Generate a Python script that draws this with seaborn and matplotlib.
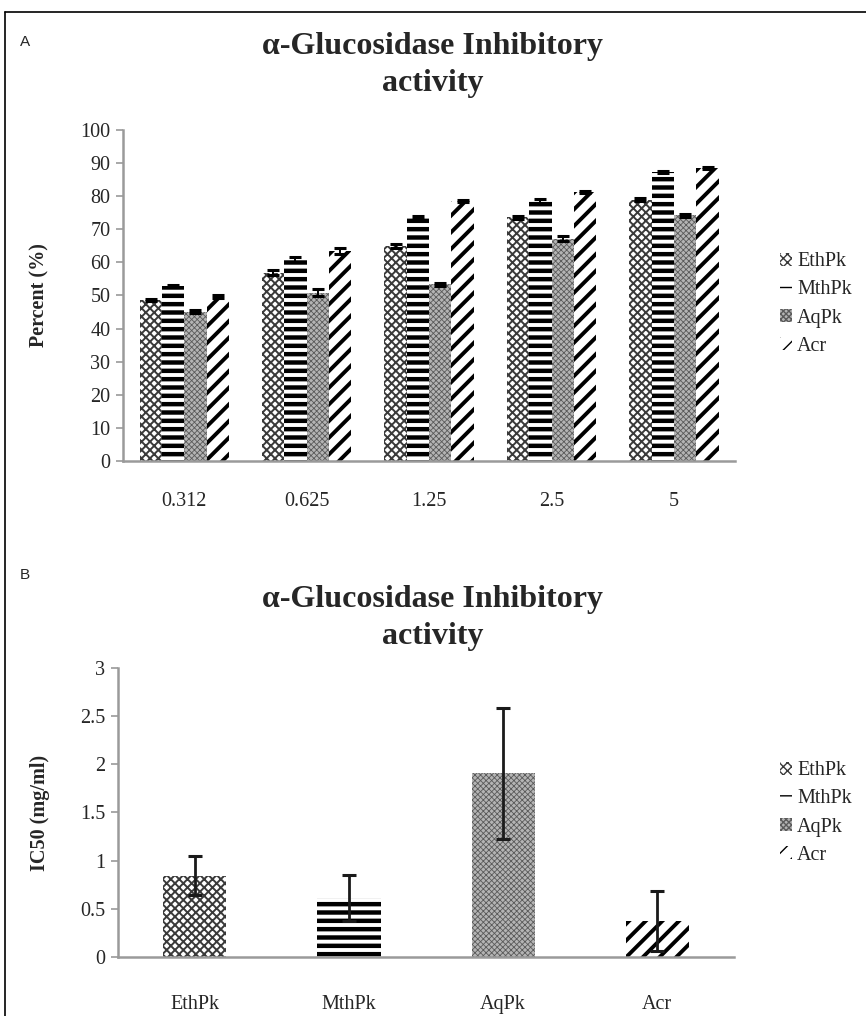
import numpy as np
import pandas as pd
import matplotlib
matplotlib.use('Agg')
import matplotlib.pyplot as plt
import seaborn as sns
from matplotlib.patches import Patch
from matplotlib.lines import Line2D

# data
concentrations = ['0.312', '0.625', '1.25', '2.5', '5']
samples = ['EthPk', 'MthPk', 'AqPk', 'Acr']

eth_pct = [48.6, 56.9, 64.8, 73.6, 78.9]
mth_pct = [52.9, 60.8, 73.6, 78.4, 87.3]
aq_pct = [45.1, 50.8, 53.4, 67.2, 74.2]
acr_pct = [49.6, 63.5, 78.6, 81.3, 88.5]

eth_err = [0.4, 0.8, 0.6, 0.5, 0.5]
mth_err = [0.3, 0.8, 0.5, 0.8, 0.4]
aq_err = [0.4, 1.0, 0.5, 0.8, 0.4]
acr_err = [0.5, 0.9, 0.3, 0.3, 0.3]

ic50 = [0.845, 0.61, 1.91, 0.376]
ic50_err = [0.20, 0.24, 0.68, 0.31]

pct = {'EthPk': eth_pct, 'MthPk': mth_pct, 'AqPk': aq_pct, 'Acr': acr_pct}
pct_err = {'EthPk': eth_err, 'MthPk': mth_err, 'AqPk': aq_err, 'Acr': acr_err}

# pattern fills (black & white print look)
styles = {
    'EthPk': dict(face='white', edge='#3a3a3a', hatch='xxxx', hlw=1.4),
    'MthPk': dict(face='white', edge='black', hatch='--', hlw=3.2),
    'AqPk': dict(face='#b4b4b4', edge='#5a5a5a', hatch='xxxxxx', hlw=0.6),
    'Acr': dict(face='white', edge='black', hatch='//', hlw=2.8),
}

sns.set_style('white')
plt.rcParams['font.family'] = ['Liberation Serif', 'DejaVu Serif']
plt.rcParams['hatch.linewidth'] = 1.0

df_a = pd.DataFrame([(c, s, pct[s][i]) for s in samples for i, c in enumerate(concentrations)],
                    columns=['conc', 'sample', 'pct'])
df_b = pd.DataFrame({'sample': samples, 'ic50': ic50})

fig = plt.figure(figsize=(8.66, 10.16), dpi=100)
ax_a = fig.add_axes([0.142, 0.5463, 0.707, 0.3258])
ax_b = fig.add_axes([0.136, 0.0581, 0.712, 0.2844])


def style_bar(bar, name):
    st = styles[name]
    bar.set_facecolor(st['face'])
    bar.set_edgecolor(st['edge'])
    bar.set_hatch(st['hatch'])
    bar.set_linewidth(0)
    if hasattr(bar, 'set_hatch_linewidth'):
        bar.set_hatch_linewidth(st['hlw'])


def legend_handles():
    hs = []
    for s in samples:
        st = styles[s]
        p = Patch(facecolor=st['face'], edgecolor=st['edge'], hatch=st['hatch'], linewidth=0, label=s)
        if hasattr(p, 'set_hatch_linewidth'):
            p.set_hatch_linewidth(st['hlw'])
        hs.append(p)
    return hs


def dress_axes(ax, label):
    for side in ['top', 'right']:
        ax.spines[side].set_visible(False)
    for side in ['left', 'bottom']:
        ax.spines[side].set_color('#9a9a9a')
        ax.spines[side].set_linewidth(1.8)
    ax.tick_params(axis='y', which='major', left=True, length=5, width=1.2, color='#9a9a9a',
                   labelsize=14.5, pad=4)
    ax.set_ylabel(label, fontsize=14.5, fontweight='bold')
    ax.set_xlabel('')


# ---- panel A: percent inhibition by concentration
sns.barplot(data=df_a, x='conc', y='pct', hue='sample', order=concentrations, hue_order=samples,
            width=0.73, gap=0, errorbar=None, legend=False, ax=ax_a)
for container, s in zip(ax_a.containers, samples):
    xs, ys = [], []
    for bar in container:
        style_bar(bar, s)
        xs.append(bar.get_x() + bar.get_width() / 2)
        ys.append(bar.get_height())
    ax_a.errorbar(xs, ys, yerr=pct_err[s], fmt='none', ecolor='black', elinewidth=1.4,
                  capsize=4, capthick=2.2, zorder=5)
ax_a.set_ylim(0, 100)
ax_a.set_yticks(np.arange(0, 101, 10))
ax_a.set_xlim(-0.5, len(concentrations) - 0.5)
dress_axes(ax_a, 'Percent (%)')
ax_a.yaxis.set_label_coords(-0.12, 0.5)
ax_a.tick_params(axis='x', bottom=False, labelsize=14.5, pad=19)
ax_a.legend(handles=legend_handles(), loc='center left', frameon=False,
            bbox_to_anchor=(762 / 866, 1 - 304 / 1016), bbox_transform=fig.transFigure,
            fontsize=14.5, handlelength=0.6, handleheight=0.6, handletextpad=0.25, labelspacing=0.45)

# ---- panel B: IC50 per extract
sns.barplot(data=df_b, x='sample', y='ic50', hue='sample', order=samples, hue_order=samples,
            width=0.41, errorbar=None, legend=False, ax=ax_b)
for bar in ax_b.patches:
    cx = bar.get_x() + bar.get_width() / 2
    idx = int(round(cx))
    style_bar(bar, samples[idx])
    ax_b.errorbar([cx], [bar.get_height()], yerr=[ic50_err[idx]], fmt='none', ecolor='#1a1a1a',
                  elinewidth=2, capsize=5, capthick=2.2, zorder=5)
ax_b.set_ylim(0, 3)
ax_b.set_yticks(np.arange(0, 3.01, 0.5))
ax_b.set_yticklabels(['0', '0.5', '1', '1.5', '2', '2.5', '3'])
ax_b.set_xlim(-0.5, len(samples) - 0.5)
dress_axes(ax_b, 'IC50 (mg/ml)')
ax_b.yaxis.set_label_coords(-0.11, 0.5)
ax_b.tick_params(axis='x', bottom=False, labelsize=14.5, pad=24)
ax_b.legend(handles=legend_handles(), loc='center left', frameon=False,
            bbox_to_anchor=(762 / 866, 1 - 813 / 1016), bbox_transform=fig.transFigure,
            fontsize=14.5, handlelength=0.6, handleheight=0.6, handletextpad=0.25, labelspacing=0.45)

# titles and panel letters
title = '\u03b1-Glucosidase Inhibitory\nactivity'
fig.text(0.5, 1 - 65 / 1016, title, ha='center', va='center', fontsize=23, fontweight='bold',
         linespacing=1.38)
fig.text(0.5, 1 - 618 / 1016, title, ha='center', va='center', fontsize=23, fontweight='bold',
         linespacing=1.38)
fig.text(20 / 866, 1 - 42 / 1016, 'A', ha='left', va='center', fontsize=11,
         family=['Liberation Sans', 'DejaVu Sans'])
fig.text(20 / 866, 1 - 575 / 1016, 'B', ha='left', va='center', fontsize=11,
         family=['Liberation Sans', 'DejaVu Sans'])

# outer frame (cropped at right and bottom)
fig.add_artist(Line2D([5 / 866, 5 / 866], [0, 1 - 12 / 1016], transform=fig.transFigure,
                      color='black', linewidth=1.2))
fig.add_artist(Line2D([5 / 866, 1], [1 - 12 / 1016, 1 - 12 / 1016], transform=fig.transFigure,
                      color='black', linewidth=1.2))

fig.savefig('out.png', dpi=100, facecolor='white')
